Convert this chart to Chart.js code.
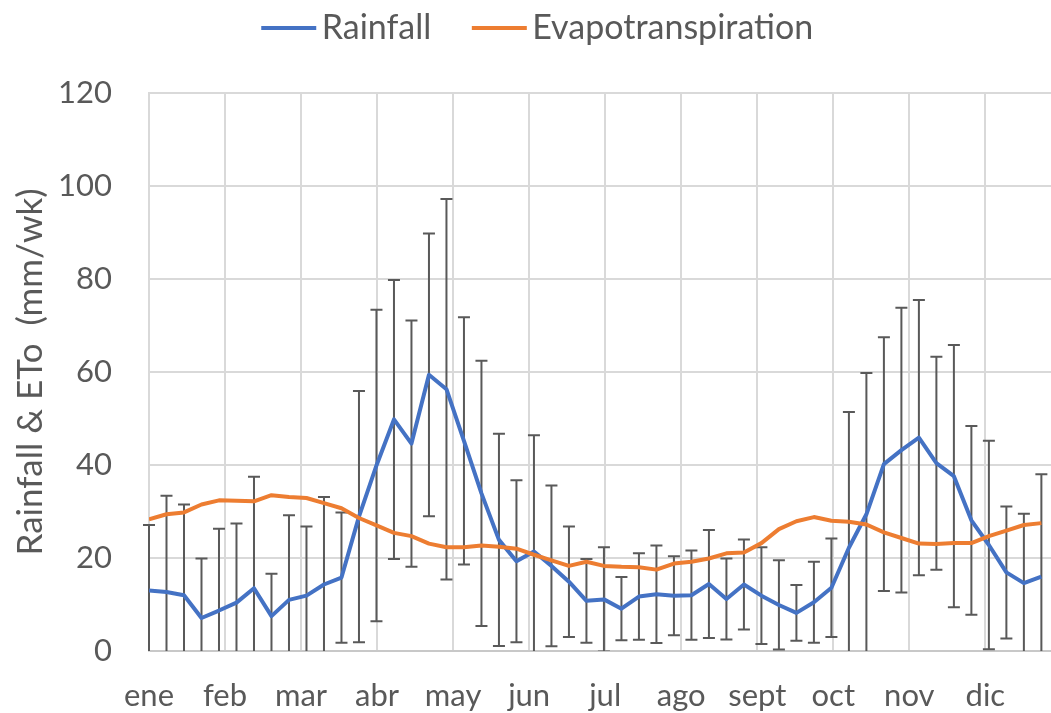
<!DOCTYPE html>
<html>
<head>
<meta charset="utf-8">
<script src="https://cdn.jsdelivr.net/npm/chart.js@4.4.1/dist/chart.umd.min.js"></script>
<style>
html,body{margin:0;padding:0;background:#ffffff;}
canvas{display:block;}
</style>
</head>
<body>
<canvas id="c" width="1051" height="713"></canvas>
<script>
// ---- data (weekly values, week index 0..51) ----
const months = ['ene','feb','mar','abr','may','jun','jul','ago','sept','oct','nov','dic'];

const rainfall = [
  13.0, 12.7, 12.0, 7.1, 8.7, 10.4, 13.5, 7.5, 11.0, 11.9, 14.3, 15.8,
  28.9, 39.9, 49.8, 44.6, 59.4, 56.3, 45.2, 33.9, 23.9, 19.3, 21.4, 18.3,
  14.9, 10.8, 11.1, 9.1, 11.7, 12.2, 11.9, 12.0, 14.4, 11.2, 14.3, 11.9,
  9.9, 8.2, 10.5, 13.6, 22.2, 29.4, 40.2, 43.2, 45.9, 40.4, 37.6, 28.1,
  22.8, 16.9, 14.6, 16.0
];

const rainfallSD = [
  14.1, 20.7, 19.5, 12.8, 17.6, 17.0, 24.0, 9.1, 18.2, 14.9, 18.8, 14.0,
  27.0, 33.5, 30.0, 26.5, 30.4, 40.9, 26.6, 28.5, 22.8, 17.4, 25.0, 17.3,
  11.9, 9.0, 11.2, 6.8, 9.3, 10.5, 8.5, 9.6, 11.6, 8.7, 9.7, 10.4,
  9.6, 6.0, 8.7, 10.6, 29.2, 30.4, 27.3, 30.6, 29.6, 22.9, 28.2, 20.3,
  22.4, 14.2, 14.9, 22.0
];

const evapotranspiration = [
  28.3, 29.4, 29.8, 31.5, 32.4, 32.3, 32.2, 33.5, 33.1, 32.9, 31.8, 30.7,
  28.6, 27.0, 25.4, 24.7, 23.1, 22.3, 22.3, 22.7, 22.4, 22.0, 20.7, 19.5,
  18.3, 19.2, 18.3, 18.1, 18.0, 17.5, 18.8, 19.2, 19.9, 21.0, 21.2, 23.2,
  26.2, 27.9, 28.8, 28.0, 27.8, 27.2, 25.5, 24.3, 23.1, 23.0, 23.2, 23.2,
  24.7, 25.9, 27.1, 27.5
];

const yTicks = [0, 20, 40, 60, 80, 100, 120];
const seriesNames = ['Rainfall', 'Evapotranspiration'];
const seriesColors = ['#4472C4', '#ED7D31'];

const WEEKS_PER_MONTH = 365 / 12 / 7;

// ---- helpers ----
function legendLine(color) {
  const c = document.createElement('canvas');
  c.width = 92; c.height = 8;
  const g = c.getContext('2d');
  g.strokeStyle = color; g.lineWidth = 4; g.lineCap = 'butt';
  g.beginPath(); g.moveTo(36, 4); g.lineTo(91, 4); g.stroke();
  return c;
}

const errorBars = {
  id: 'errorBars',
  beforeDatasetsDraw(chart) {
    const {ctx, chartArea, scales} = chart;
    const xs = scales.x, ys = scales.y;
    ctx.save();
    ctx.beginPath();
    ctx.rect(chartArea.left - 10, chartArea.top - 10, chartArea.right - chartArea.left + 20, chartArea.bottom - chartArea.top + 10);
    ctx.clip();
    ctx.strokeStyle = '#595959';
    ctx.lineWidth = 2;
    rainfall.forEach((v, i) => {
      const px = xs.getPixelForValue(i);
      const yTop = ys.getPixelForValue(v + rainfallSD[i]);
      const yBot = ys.getPixelForValue(v - rainfallSD[i]);
      ctx.beginPath();
      ctx.moveTo(px, yTop); ctx.lineTo(px, yBot);
      ctx.moveTo(px - 6, yTop); ctx.lineTo(px + 6, yTop);
      ctx.moveTo(px - 6, yBot); ctx.lineTo(px + 6, yBot);
      ctx.stroke();
    });
    ctx.restore();
  }
};

const legendHeight = {
  id: 'legendHeight',
  beforeLayout(chart) {
    const lg = chart.legend;
    if (lg && !lg.__patched) {
      const orig = lg.fit;
      lg.fit = function () { orig.call(this); this.height = 99; };
      lg.__patched = true;
    }
  }
};

Chart.defaults.font.family = 'Lato';
Chart.defaults.color = '#595959';

function draw() {
  new Chart(document.getElementById('c'), {
    type: 'line',
    data: {
      datasets: [
        {
          label: seriesNames[0],
          data: rainfall.map((v, i) => ({x: i, y: v})),
          borderColor: seriesColors[0],
          backgroundColor: seriesColors[0],
          borderWidth: 4,
          pointRadius: 0,
          pointStyle: legendLine(seriesColors[0]),
          tension: 0,
          borderJoinStyle: 'round',
          order: 1
        },
        {
          label: seriesNames[1],
          data: evapotranspiration.map((v, i) => ({x: i, y: v})),
          borderColor: seriesColors[1],
          backgroundColor: seriesColors[1],
          borderWidth: 4,
          pointRadius: 0,
          pointStyle: legendLine(seriesColors[1]),
          tension: 0,
          borderJoinStyle: 'round',
          order: 0
        }
      ]
    },
    options: {
      responsive: false,
      animation: false,
      events: [],
      devicePixelRatio: 1,
      layout: {padding: {top: -6, left: 0, right: 0, bottom: 0}},
      plugins: {
        tooltip: {enabled: false},
        legend: {
          position: 'top',
          align: 'center',
          labels: {
            usePointStyle: true,
            pointStyleWidth: 67,
            boxHeight: 34,
            padding: 17,
            color: '#595959',
            font: {family: 'Lato', size: 34},
            sort: (a, b) => a.datasetIndex - b.datasetIndex
          }
        }
      },
      scales: {
        x: {
          type: 'linear',
          min: 0,
          max: 51.55,
          afterBuildTicks(scale) {
            scale.ticks = months.map((m, i) => ({value: i * WEEKS_PER_MONTH}));
          },
          afterFit(scale) { scale.height = 62; },
          ticks: {
            autoSkip: false,
            maxRotation: 0,
            minRotation: 0,
            padding: 26,
            color: '#595959',
            font: {family: 'Lato', size: 31},
            callback: (v, i) => months[i]
          },
          grid: {color: '#d9d9d9', lineWidth: 2, drawTicks: false},
          border: {display: true, color: '#c8c8c8', width: 2}
        },
        y: {
          type: 'linear',
          min: yTicks[0],
          max: yTicks[yTicks.length - 1],
          afterBuildTicks(scale) {
            scale.ticks = yTicks.map(v => ({value: v}));
          },
          afterFit(scale) { scale.width = 149; },
          ticks: {
            padding: 37,
            color: '#595959',
            font: {family: 'Lato', size: 31}
          },
          grid: {color: '#d9d9d9', lineWidth: 2, drawTicks: false},
          border: {display: true, color: '#d9d9d9', width: 2},
          title: {
            display: true,
            text: 'Rainfall & ETo  (mm/wk)',
            color: '#595959',
            font: {family: 'Lato', size: 35},
            padding: {top: 10, bottom: 0}
          }
        }
      }
    },
    plugins: [errorBars, legendHeight]
  });
}

if (document.fonts && document.fonts.load) {
  Promise.all([document.fonts.load('31px Lato'), document.fonts.load('35px Lato')]).then(draw, draw);
} else {
  draw();
}
</script>
</body>
</html>
